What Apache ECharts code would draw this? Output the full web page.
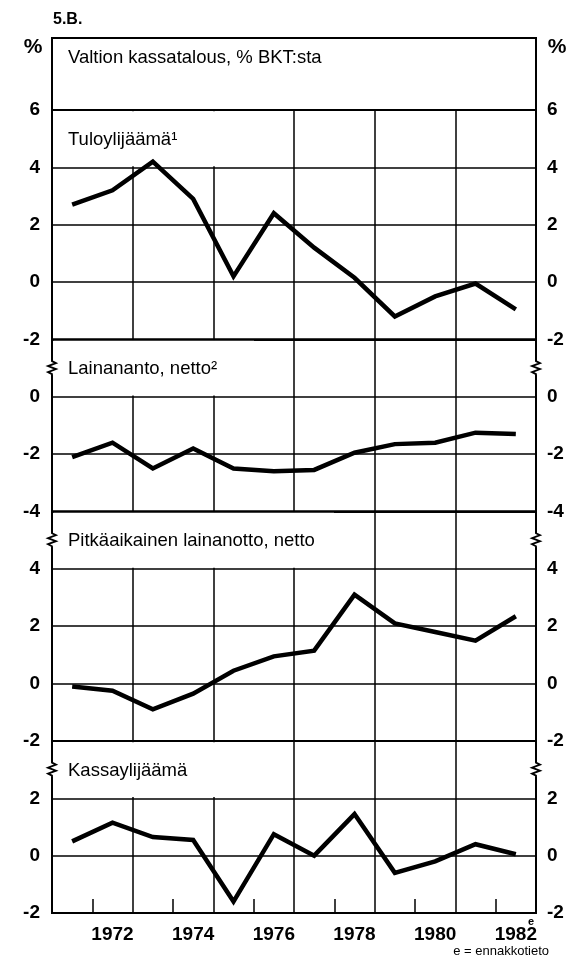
<!DOCTYPE html>
<html>
<head>
<meta charset="utf-8">
<script src="https://cdn.jsdelivr.net/npm/echarts@6/dist/echarts.min.js"></script>
<style>
html, body { margin: 0; padding: 0; background: #fff; }
#main { width: 576px; height: 963px; }
</style>
</head>
<body>
<div id="main"></div>
<script>
var years = ['1971', '1972', '1973', '1974', '1975', '1976', '1977', '1978', '1979', '1980', '1981', '1982'];
var tuloylijaama = [2.7, 3.2, 4.2, 2.9, 0.2, 2.4, 1.2, 0.15, -1.2, -0.5, -0.05, -0.95];
var lainananto = [-2.1, -1.6, -2.5, -1.8, -2.5, -2.6, -2.55, -1.95, -1.65, -1.6, -1.25, -1.3];
var pitkaaikainen = [-0.1, -0.25, -0.9, -0.35, 0.45, 0.95, 1.15, 3.1, 2.1, 1.8, 1.5, 2.35];
var kassaylijaama = [0.5, 1.15, 0.65, 0.55, -1.6, 0.75, 0.0, 1.45, -0.6, -0.2, 0.4, 0.05];
var panelNames = ['Tuloylijäämä¹', 'Lainananto, netto²', 'Pitkäaikainen lainanotto, netto', 'Kassaylijäämä'];
var yMin = [-2, -4, -2, -2];
var yMax = [6, 2, 6, 4];

var allSeries = [tuloylijaama, lainananto, pitkaaikainen, kassaylijaama];
var numFont = '"Liberation Sans Narrow", "Liberation Sans", Arial, sans-serif';
var txtFont = '"Liberation Sans", Arial, sans-serif';

var gLeft = 52, gRight = 40, top0 = 110, band = 57.36;
var coverRight = [254, 254, 334, 254];

var grids = [], xAxes = [], yAxes = [], series = [], graphics = [];
var curTop = top0;

graphics.push({
    type: 'rect', z: 100,
    shape: { x: gLeft, y: 38, width: 576 - gLeft - gRight, height: top0 - 38 },
    style: { fill: '#fff', stroke: '#000', lineWidth: 2 }
});
graphics.push({
    type: 'text', z: 101, x: 68, y: 58,
    style: { text: 'Valtion kassatalous, % BKT:sta', font: '18.5px ' + txtFont, fill: '#000', verticalAlign: 'middle' }
});
graphics.push({
    type: 'text', z: 101, x: 53, y: 20,
    style: { text: '5.B.', font: 'bold 16px ' + txtFont, fill: '#000', verticalAlign: 'middle' }
});
graphics.push({
    type: 'text', z: 101, x: 33, y: 47,
    style: { text: '%', font: 'bold 21px ' + txtFont, fill: '#000', align: 'center', verticalAlign: 'middle' }
});
graphics.push({
    type: 'text', z: 101, x: 557, y: 47,
    style: { text: '%', font: 'bold 21px ' + txtFont, fill: '#000', align: 'center', verticalAlign: 'middle' }
});

for (var i = 0; i < 4; i++) {
    var h = (yMax[i] - yMin[i]) / 2 * band;
    var last = i === 3;
    grids.push({
        left: gLeft, right: gRight, top: curTop, height: h,
        show: true, borderColor: '#000', borderWidth: 2, backgroundColor: 'transparent'
    });
    xAxes.push({
        type: 'category', gridIndex: i, data: years, boundaryGap: true, position: 'bottom',
        axisLine: { show: false, onZero: false },
        axisTick: {
            show: last, inside: true, length: 14,
            interval: function (idx) { return idx % 2 === 1; },
            lineStyle: { color: '#000', width: 1.5 }
        },
        axisLabel: {
            show: last, margin: 12,
            interval: function (idx) { return idx % 2 === 1; },
            color: '#000', fontSize: 19, fontWeight: 'bold', fontFamily: numFont
        },
        splitLine: {
            show: true,
            interval: function (idx) { return idx % 2 === 0; },
            lineStyle: { color: '#000', width: 1.5 }
        }
    });
    var yLabel = {
        color: '#000', fontSize: 19, fontWeight: 'bold', fontFamily: numFont,
        showMaxLabel: i === 0, showMinLabel: true
    };
    yAxes.push({
        type: 'value', gridIndex: i, position: 'left',
        min: yMin[i], max: yMax[i], interval: 2,
        axisLine: { show: false }, axisTick: { show: false },
        axisLabel: Object.assign({ margin: 12 }, yLabel),
        splitLine: { show: true, lineStyle: { color: '#000', width: 1.5 } }
    });
    yAxes.push({
        type: 'value', gridIndex: i, position: 'right',
        min: yMin[i], max: yMax[i], interval: 2,
        axisLine: { show: false }, axisTick: { show: false },
        axisLabel: Object.assign({ margin: 11 }, yLabel),
        splitLine: { show: false }
    });
    series.push({
        type: 'line', xAxisIndex: i, yAxisIndex: i * 2,
        data: allSeries[i], symbol: 'none', z: 5,
        lineStyle: { color: '#000', width: 4.5, join: 'miter', cap: 'butt' }
    });

    // label band: white box over the gridlines (under the data line), then the label
    graphics.push({
        type: 'rect', z: 1,
        shape: { x: gLeft + 1.5, y: curTop + 1.2, width: coverRight[i] - gLeft - 1.5, height: band - 2.4 },
        style: { fill: '#fff' }
    });
    graphics.push({
        type: 'text', z: 101, x: 68, y: curTop + band / 2 + 1,
        style: { text: panelNames[i], font: '18.5px ' + txtFont, fill: '#000', verticalAlign: 'middle' }
    });

    if (i > 0) {
        var cy = curTop + band / 2;
        [gLeft, 576 - gRight].forEach(function (cx) {
            graphics.push({
                type: 'rect', z: 102,
                shape: { x: cx - 2, y: cy - 7, width: 4, height: 14 },
                style: { fill: '#fff' }
            });
            graphics.push({
                type: 'polyline', z: 103,
                shape: { points: [[cx, cy - 9], [cx, cy - 7], [cx + 4, cy - 5], [cx - 4, cy - 2], [cx + 4, cy + 1], [cx - 4, cy + 4], [cx, cy + 6], [cx, cy + 9]] },
                style: { stroke: '#000', lineWidth: 1.8, fill: null }
            });
        });
    }
    curTop += h;
}

graphics.push({
    type: 'text', z: 101, x: 531, y: 922,
    style: { text: 'e', font: 'bold 11px ' + txtFont, fill: '#000', align: 'center', verticalAlign: 'middle' }
});
graphics.push({
    type: 'text', z: 101, x: 549, y: 951,
    style: { text: 'e = ennakkotieto', font: '13px ' + txtFont, fill: '#000', align: 'right', verticalAlign: 'middle' }
});

var chart = echarts.init(document.getElementById('main'));
chart.setOption({
    backgroundColor: '#fff',
    animation: false,
    grid: grids,
    xAxis: xAxes,
    yAxis: yAxes,
    series: series,
    graphic: graphics
});
</script>
</body>
</html>
